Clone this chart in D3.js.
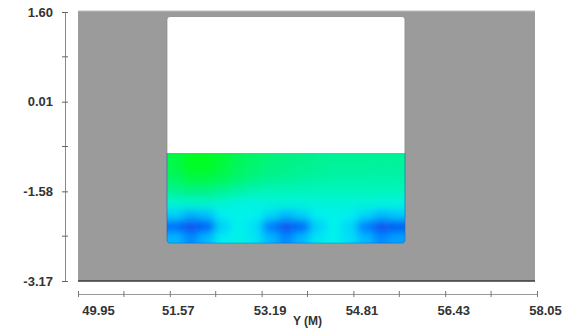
<!DOCTYPE html>
<html><head><meta charset="utf-8">
<script src="https://cdn.jsdelivr.net/npm/d3@7"></script>
<style>
body{margin:0;background:#fff;}
svg{display:block;}
text{font-family:"Liberation Sans",Arial,Helvetica,sans-serif;font-weight:bold;fill:#333;}
</style></head>
<body>
<svg id="chart" width="564" height="329"></svg>
<script>
// ---- data ----
const xDomain = [49.95, 58.05];
const yDomain = [-3.17, 1.60];
const xTickLabels = ["49.95","51.57","53.19","54.81","56.43","58.05"];
const yTickLabels = ["1.60","0.01","-1.58","-3.17"];
const xAxisTitle = "Y  (M)";
// tank cross-section (data units)
const tankX = [51.52, 55.72];
const tankZ = [-2.50, 1.52];
const waterLevel = -0.90;
// field grid: cell centres
const gridX = [51.66,51.94,52.22,52.50,52.78,53.06,53.34,53.62,53.90,54.18,54.46,54.74,55.02,55.30,55.58];
const gridZ = [-1.0,-1.2,-1.4,-1.6,-1.8,-2.0,-2.2,-2.4];
const gridStepX = 0.28, gridStepZ = 0.2;
// normalised field value (1 = green, 0 = blue), one row per gridZ
const field = [
  [0.92,0.97,0.97,0.94,0.88,0.84,0.80,0.78,0.76,0.74,0.72,0.72,0.72,0.72,0.72],
  [0.90,0.96,0.96,0.92,0.86,0.82,0.78,0.76,0.74,0.72,0.70,0.70,0.70,0.70,0.70],
  [0.84,0.90,0.90,0.86,0.80,0.76,0.72,0.70,0.68,0.67,0.66,0.66,0.66,0.66,0.66],
  [0.72,0.76,0.76,0.72,0.66,0.62,0.60,0.60,0.60,0.60,0.60,0.60,0.60,0.60,0.60],
  [0.54,0.56,0.56,0.54,0.50,0.50,0.52,0.52,0.52,0.52,0.52,0.52,0.52,0.50,0.50],
  [0.36,0.28,0.32,0.44,0.48,0.46,0.38,0.30,0.36,0.44,0.48,0.44,0.38,0.30,0.34],
  [0.14,0.04,0.10,0.36,0.46,0.40,0.18,0.05,0.12,0.36,0.46,0.38,0.18,0.04,0.08],
  [0.30,0.22,0.30,0.44,0.48,0.42,0.30,0.22,0.30,0.42,0.46,0.40,0.30,0.22,0.26]
];

// ---- drawing ----
const svg = d3.select("#chart");
const x = d3.scaleLinear().domain(xDomain).range([78, 537]);
const y = d3.scaleLinear().domain(yDomain).range([281, 12]);
const color = d3.scaleLinear()
  .domain([0, 0.15, 0.3, 0.45, 0.6, 0.75, 0.9, 1])
  .range(["#0a3ce6","#0064ff","#00b8ff","#00f2f0","#00f5c0","#00f28e","#00f850","#00ff10"])
  .clamp(true);

const defs = svg.append("defs");
defs.append("filter").attr("id","blur")
  .attr("x","-10%").attr("y","-20%").attr("width","120%").attr("height","140%")
  .append("feGaussianBlur").attr("stdDeviation", 4.5);

// background domain
svg.append("rect")
  .attr("x", x(xDomain[0])).attr("y", y(yDomain[1]) - 1)
  .attr("width", x(xDomain[1]) - x(xDomain[0]) - 2)
  .attr("height", y(yDomain[0]) - y(yDomain[1]) + 1)
  .attr("fill", "#9b9b9b");
svg.append("line")
  .attr("x1", x(xDomain[0])).attr("x2", x(xDomain[1]) - 2)
  .attr("y1", y(yDomain[1]) - 1).attr("y2", y(yDomain[1]) - 1)
  .attr("stroke", "#bdbdbd").attr("stroke-width", 1);
svg.append("line")
  .attr("x1", x(xDomain[0])).attr("x2", x(xDomain[1]) - 2)
  .attr("y1", y(yDomain[0])).attr("y2", y(yDomain[0]))
  .attr("stroke", "#3a3a3a").attr("stroke-width", 1.5);

// tank
const tx0 = x(tankX[0]), tx1 = x(tankX[1]), tyTop = y(tankZ[1]), tyBot = y(tankZ[0]);
svg.append("rect")
  .attr("x", tx0).attr("y", tyTop).attr("width", tx1 - tx0).attr("height", tyBot - tyTop)
  .attr("rx", 3).attr("ry", 3).attr("fill", "#fff");

const waterClip = defs.append("clipPath").attr("id","waterClip");
waterClip.append("rect")
  .attr("x", tx0).attr("y", y(waterLevel)).attr("width", tx1 - tx0).attr("height", tyBot - y(waterLevel))
  .attr("rx", 3).attr("ry", 3);
waterClip.append("rect")
  .attr("x", tx0).attr("y", y(waterLevel)).attr("width", tx1 - tx0).attr("height", 10);

const cells = [];
field.forEach((row, j) => row.forEach((v, i) => cells.push({i, j, v})));
const pad = 14;
const outer = svg.append("g").attr("clip-path", "url(#waterClip)");
const blurred = outer.append("g").attr("filter", "url(#blur)");
blurred.selectAll("rect.cell").data(cells).join("rect").attr("class","cell")
  .attr("x", d => x(gridX[d.i] - gridStepX/2) - (d.i === 0 ? pad : 0))
  .attr("y", d => y(gridZ[d.j] + gridStepZ/2) - (d.j === 0 ? pad : 0))
  .attr("width", d => x(gridX[d.i] + gridStepX/2) - x(gridX[d.i] - gridStepX/2) + 0.6
        + (d.i === 0 ? pad : 0) + (d.i === gridX.length - 1 ? pad : 0))
  .attr("height", d => y(gridZ[d.j] - gridStepZ/2) - y(gridZ[d.j] + gridStepZ/2) + 0.6
        + (d.j === 0 ? pad : 0) + (d.j === gridZ.length - 1 ? pad : 0))
  .attr("fill", d => color(d.v));

// water outline
svg.append("path")
  .attr("d", `M${tx0},${y(waterLevel)} L${tx0},${tyBot-3} Q${tx0},${tyBot} ${tx0+3},${tyBot} L${tx1-3},${tyBot} Q${tx1},${tyBot} ${tx1},${tyBot-3} L${tx1},${y(waterLevel)}`)
  .attr("fill","none").attr("stroke","#2b5aa8").attr("stroke-opacity",0.6).attr("stroke-width",1);
svg.append("path")
  .attr("d", `M${tx0},${y(waterLevel)} L${tx0},${tyTop+3} Q${tx0},${tyTop} ${tx0+3},${tyTop} L${tx1-3},${tyTop} Q${tx1},${tyTop} ${tx1},${tyTop+3} L${tx1},${y(waterLevel)}`)
  .attr("fill","none").attr("stroke","#8a8a8a").attr("stroke-width",0.8);

// ---- axes ----
const yMajor = yTickLabels.map(Number);
const yMinor = d3.range(yMajor.length - 1).map(k => (yMajor[k] + yMajor[k+1]) / 2);
const yAxisG = svg.append("g").attr("transform", "translate(65,0)")
  .call(d3.axisLeft(y).tickValues(yMajor).tickSizeInner(3).tickSizeOuter(0)
        .tickFormat((d, k) => yTickLabels[k]));
yAxisG.select(".domain").attr("stroke", "#888");
yAxisG.selectAll(".tick line").attr("x1", 3).attr("x2", -3).attr("stroke", "#666");
yAxisG.selectAll(".tick text").attr("x", -12).style("font-size", "13px").attr("fill", "#333");
yAxisG.selectAll(".minor").data(yMinor).join("line").attr("class","minor")
  .attr("x1", -3).attr("x2", 3).attr("y1", d => y(d)).attr("y2", d => y(d)).attr("stroke", "#666");

const xMajor = xTickLabels.map(Number);
const xMinor = d3.range(xMajor.length - 1).map(k => (xMajor[k] + xMajor[k+1]) / 2);
const xAxisG = svg.append("g").attr("transform", "translate(0,294)")
  .call(d3.axisBottom(x).tickValues(xMajor).tickSizeInner(3).tickSizeOuter(0)
        .tickFormat((d, k) => xTickLabels[k]));
xAxisG.select(".domain").attr("stroke", "#999");
xAxisG.selectAll(".tick line").attr("y1", -3).attr("y2", 3).attr("stroke", "#777");
xAxisG.selectAll(".tick text").attr("y", 12).attr("dx", (d, k) => k === 0 ? 20 : 8)
  .style("font-size", "13px").attr("fill", "#333");
xAxisG.selectAll(".minor").data(xMinor).join("line").attr("class","minor")
  .attr("x1", d => x(d)).attr("x2", d => x(d)).attr("y1", -3).attr("y2", 3).attr("stroke", "#777");

svg.append("text")
  .attr("x", (x.range()[0] + x.range()[1]) / 2).attr("y", 325)
  .attr("text-anchor", "middle").style("font-size", "12px")
  .text(xAxisTitle);
</script>
</body></html>
